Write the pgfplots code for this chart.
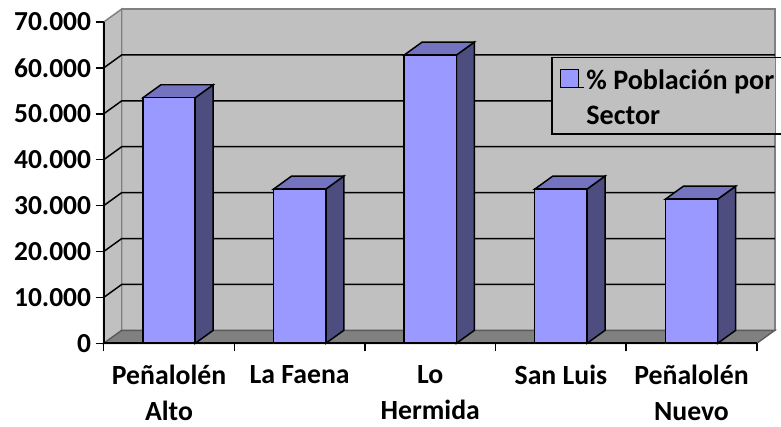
\documentclass[border=0pt]{standalone}
\usepackage{fontspec}
\setmainfont{Carlito}
\usepackage{pgfplots}
\pgfplotsset{compat=1.18}
\definecolor{wall}{HTML}{C0C0C0}
\definecolor{floorc}{HTML}{808080}
\definecolor{barf}{HTML}{9999FF}
\definecolor{bars}{HTML}{4D4D80}
\definecolor{bart}{HTML}{7373BF}
\begin{document}
\begin{tikzpicture}
\begin{axis}[
  at={(0pt,0pt)}, anchor=south west,
  scale only axis, width=489.8pt, height=241pt,
  xmin=-0.5, xmax=4.5, ymin=0, ymax=70000,
  clip=false, axis on top,
  axis x line*=bottom, axis y line*=left,
  axis line style={-, black, line width=1.5pt},
  xtick={0,1,2,3,4},
  xticklabels={{Peñalolén\\Alto},{La Faena},{Lo\\Hermida},{San Luis},{Peñalolén\\Nuevo}},
  minor xtick={-0.5,0.5,1.5,2.5,3.5,4.5},
  major tick length=6pt, minor tick length=6pt,
  tick align=outside,
  x tick style={draw=none},
  minor x tick style={draw=black, line width=1.1pt},
  y tick style={draw=black, line width=1.1pt},
  xticklabel style={font=\fontsize{20.8}{27}\selectfont\bfseries, align=center, anchor=north, yshift=-10.3pt, inner sep=0pt},
  yticklabel style={font=\fontsize{20.6}{24}\selectfont\bfseries, xshift=0pt},
  ytick={0,10000,20000,30000,40000,50000,60000,70000},
  scaled y ticks=false,
  /pgf/number format/assume math mode=true,
  /pgf/number format/1000 sep={.},
  /pgf/number format/min exponent for 1000 sep=0,
  legend style={at={(axis cs:2.988,59900)}, anchor=north west, draw=none, fill=none,
    font=\fontsize{21.1}{25.8}\selectfont\bfseries, nodes={align=left, inner sep=1pt},
    row sep=0pt, inner sep=0pt},
]
% walls
\addplot[forget plot, fill=wall, draw=floorc, line width=1.1pt] coordinates {(-0.362,2832)(4.638,2832)(4.638,72832)(-0.362,72832)} --cycle;
\addplot[forget plot, fill=wall, draw=floorc, line width=1.1pt] coordinates {(-0.5,0)(-0.362,2832)(-0.362,72832)(-0.5,70000)} --cycle;
\addplot[forget plot, fill=floorc, draw=floorc!70!black, line width=1pt] coordinates {(-0.5,0)(4.5,0)(4.638,2832)(-0.362,2832)} --cycle;
% grid lines
\addplot[forget plot, black, line width=1.1pt] coordinates {(-0.5,10000)(-0.362,12832)(4.638,12832)};
\addplot[forget plot, black, line width=1.1pt] coordinates {(-0.5,20000)(-0.362,22832)(4.638,22832)};
\addplot[forget plot, black, line width=1.1pt] coordinates {(-0.5,30000)(-0.362,32832)(4.638,32832)};
\addplot[forget plot, black, line width=1.1pt] coordinates {(-0.5,40000)(-0.362,42832)(4.638,42832)};
\addplot[forget plot, black, line width=1.1pt] coordinates {(-0.5,50000)(-0.362,52832)(4.638,52832)};
\addplot[forget plot, black, line width=1.1pt] coordinates {(-0.5,60000)(-0.362,62832)(4.638,62832)};
% bar sides and tops
\addplot[forget plot, fill=bars, draw=black, line width=1.1pt] coordinates {(0.2,0)(0.338,2832)(0.338,56332)(0.2,53500)} --cycle;
\addplot[forget plot, fill=bart, draw=black, line width=1.1pt] coordinates {(-0.2,53500)(0.2,53500)(0.338,56332)(-0.062,56332)} --cycle;
\addplot[forget plot, fill=bars, draw=black, line width=1.1pt] coordinates {(1.2,0)(1.338,2832)(1.338,36432)(1.2,33600)} --cycle;
\addplot[forget plot, fill=bart, draw=black, line width=1.1pt] coordinates {(0.8,33600)(1.2,33600)(1.338,36432)(0.938,36432)} --cycle;
\addplot[forget plot, fill=bars, draw=black, line width=1.1pt] coordinates {(2.2,0)(2.338,2832)(2.338,65632)(2.2,62800)} --cycle;
\addplot[forget plot, fill=bart, draw=black, line width=1.1pt] coordinates {(1.8,62800)(2.2,62800)(2.338,65632)(1.938,65632)} --cycle;
\addplot[forget plot, fill=bars, draw=black, line width=1.1pt] coordinates {(3.2,0)(3.338,2832)(3.338,36432)(3.2,33600)} --cycle;
\addplot[forget plot, fill=bart, draw=black, line width=1.1pt] coordinates {(2.8,33600)(3.2,33600)(3.338,36432)(2.938,36432)} --cycle;
\addplot[forget plot, fill=bars, draw=black, line width=1.1pt] coordinates {(4.2,0)(4.338,2832)(4.338,34232)(4.2,31400)} --cycle;
\addplot[forget plot, fill=bart, draw=black, line width=1.1pt] coordinates {(3.8,31400)(4.2,31400)(4.338,34232)(3.938,34232)} --cycle;
% bar fronts
\addplot[ybar, bar width=0.4, fill=barf, draw=black, line width=1.1pt,
  legend image code/.code={\draw[fill=barf, draw=black, line width=1.1pt] (0pt,8.2pt) rectangle (13.5pt,21.7pt); \path (0pt,8.2pt) -- (18pt,8.2pt);}]
  coordinates {(0,53500)(1,33600)(2,62800)(3,33600)(4,31400)};
\addlegendentry{\% Población por\\Sector}
% legend box
\fill[wall] (axis cs:2.932,45600) rectangle (axis cs:4.638,62308);
\draw[black, line width=1.1pt] (axis cs:4.686,62308) -- (axis cs:2.932,62308) -- (axis cs:2.932,45600) -- (axis cs:4.686,45600);
\end{axis}
\pgfresetboundingbox
\path (-77.8pt,-62pt) rectangle (507.95pt,257.5pt);
\end{tikzpicture}
\end{document}
